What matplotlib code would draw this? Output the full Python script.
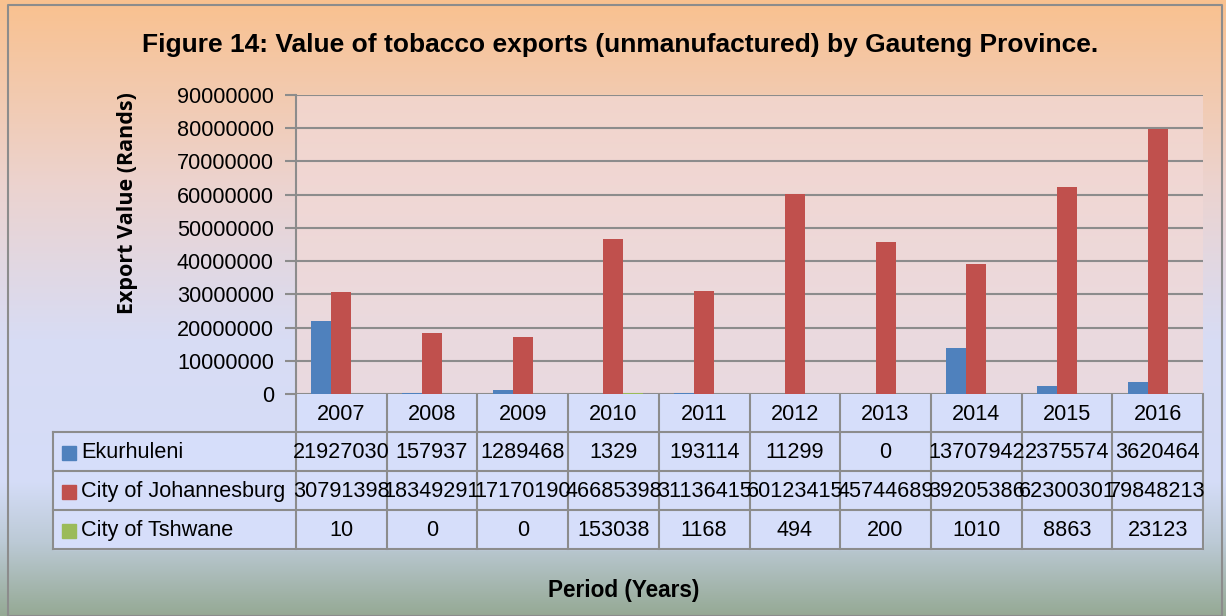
import numpy as np
import matplotlib
matplotlib.use("Agg")
import matplotlib.pyplot as plt
from matplotlib import font_manager
from matplotlib.colors import to_rgb

years = ["2007", "2008", "2009", "2010", "2011", "2012", "2013", "2014", "2015", "2016"]
ekurhuleni = [21927030, 157937, 1289468, 1329, 193114, 11299, 0, 13707942, 2375574, 3620464]
johannesburg = [30791398, 18349291, 17170190, 46685398, 31136415, 60123415, 45744689, 39205386, 62300301, 79848213]
tshwane = [10, 0, 0, 153038, 1168, 494, 200, 1010, 8863, 23123]
series_names = ["Ekurhuleni", "City of Johannesburg", "City of Tshwane"]
colors = ["#4f81bd", "#c0504d", "#9bbb59"]
yticks = [0, 10000000, 20000000, 30000000, 40000000, 50000000, 60000000, 70000000, 80000000, 90000000]

names = {f.name for f in font_manager.fontManager.ttflist}
narrow = "Liberation Sans Narrow" if "Liberation Sans Narrow" in names else "Liberation Sans"
fs = 18 if narrow == "Liberation Sans Narrow" else 15.6

W, H = 1226, 616
fig = plt.figure(figsize=(W / 100, H / 100), dpi=100)

# background gradient
bg = fig.add_axes([0, 0, 1, 1])
stops = [(0.0, "#f9c18f"), (0.30, "#ecd3cf"), (0.55, "#d8dcf4"), (0.78, "#d5ddf8"), (0.88, "#bccad6"), (1.0, "#95a994")]
ys = np.linspace(0, 1, H)
grad = np.zeros((H, 1, 3))
for c in range(3):
    grad[:, 0, c] = np.interp(ys, [s[0] for s in stops], [to_rgb(s[1])[c] for s in stops])
bg.imshow(grad, aspect="auto", extent=[0, W, H, 0])
bg.set_xlim(0, W)
bg.set_ylim(H, 0)
bg.axis("off")
bg.plot([8, 8, 1222, 1222, 8], [H, 5, 5, H, H], color="#8c8c8c", lw=1.5)

# plot area
x0, x1, ytop, ybot = 296, 1203, 95, 394
ax = fig.add_axes([x0 / W, 1 - ybot / H, (x1 - x0) / W, (ybot - ytop) / H])
ax.set_facecolor((0.95, 0.85, 0.84, 0.7))
n = len(years)
x = np.arange(n)
bw = 0.22
for i, vals in enumerate([ekurhuleni, johannesburg, tshwane]):
    ax.bar(x + (i - 1) * bw, vals, bw, color=colors[i], zorder=3)
ax.set_xlim(-0.5, n - 0.5)
ax.set_ylim(0, 90000000)
ax.set_yticks(yticks)
ax.set_yticklabels([str(v) for v in yticks], fontsize=fs, family=narrow)
ax.set_xticks([])
ax.grid(axis="y", color="#8c8c8c", lw=1.5, zorder=0)
ax.tick_params(axis="y", length=8, width=1.5, color="#8c8c8c", pad=8)
for s in ["top", "right", "bottom"]:
    ax.spines[s].set_visible(False)
ax.spines["left"].set_color("#8c8c8c")
ax.spines["left"].set_linewidth(1.5)

# data table drawn under the axis
colw = (x1 - x0) / n
tleft = 53
rows = [394, 432, 471, 510, 549]
gc = "#8c8c8c"
bg.fill_between([tleft, x1], rows[1], rows[4], color="#d6defa", zorder=1)
bg.fill_between([x0, x1], rows[0], rows[1], color="#d6defa", zorder=1)
for r in rows[1:]:
    bg.plot([tleft, x1], [r, r], color=gc, lw=1.5, zorder=2)
bg.plot([tleft, tleft], [rows[1], rows[4]], color=gc, lw=1.5, zorder=2)
for j in range(n + 1):
    xx = x0 + j * colw
    bg.plot([xx, xx], [rows[0], rows[4]], color=gc, lw=1.5, zorder=2)
for j, yr in enumerate(years):
    bg.text(x0 + (j + 0.5) * colw, (rows[0] + rows[1]) / 2 + 1, yr, ha="center", va="center",
            fontsize=fs, family=narrow, zorder=3)
for i, (name, vals) in enumerate(zip(series_names, [ekurhuleni, johannesburg, tshwane])):
    yc = (rows[i + 1] + rows[i + 2]) / 2 + 1
    bg.add_patch(plt.Rectangle((62, yc - 7), 14, 14, color=colors[i], zorder=3))
    bg.text(81, yc, name, ha="left", va="center", fontsize=fs, family=narrow, zorder=3)
    for j, v in enumerate(vals):
        bg.text(x0 + (j + 0.5) * colw, yc, str(v), ha="center", va="center",
                fontsize=fs, family=narrow, zorder=3)

# titles
bg.text(620, 45, "Figure 14: Value of tobacco exports (unmanufactured) by Gauteng Province.",
        ha="center", va="center", fontsize=19, fontweight="bold", family=narrow)
bg.text(128, 203, "Export Value (Rands)", ha="center", va="center", rotation=90,
        fontsize=15.5, fontweight="bold", family="Open Sans")
bg.text(624, 590, "Period (Years)", ha="center", va="center", fontsize=16.3,
        fontweight="bold", family=narrow)

fig.savefig("out.png", dpi=100)
